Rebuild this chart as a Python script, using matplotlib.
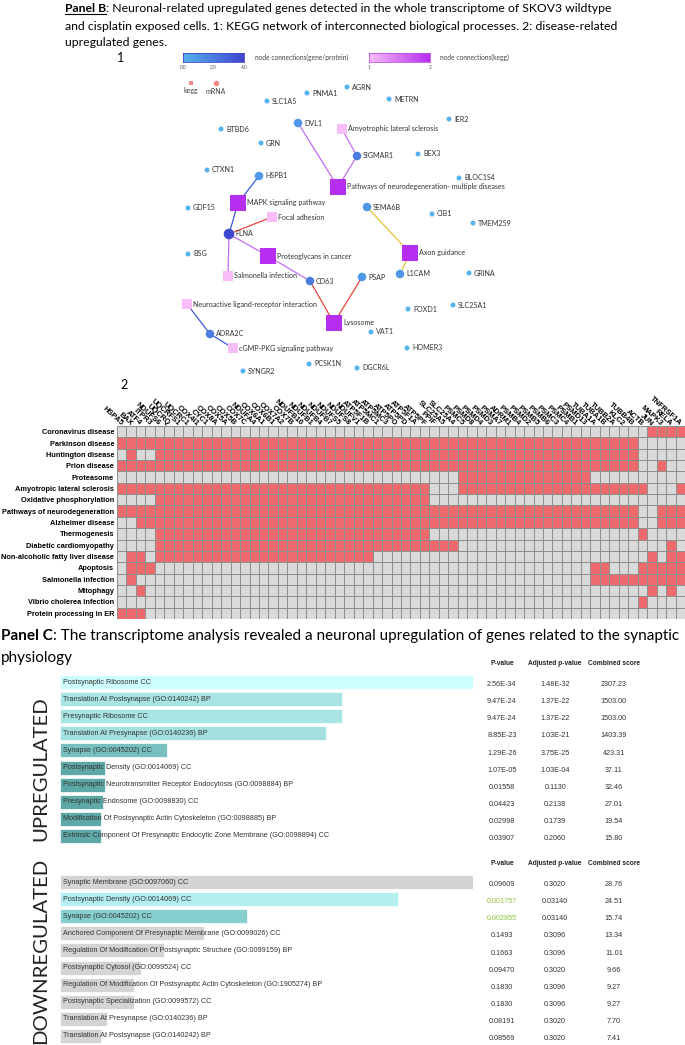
import numpy as np
import matplotlib
matplotlib.use("Agg")
import matplotlib.pyplot as plt
from matplotlib.colors import ListedColormap, LinearSegmentedColormap
from matplotlib.lines import Line2D

W, H = 685, 1045
plt.rcParams['font.family'] = ['Lato', 'DejaVu Sans']
NARROW = ['Liberation Sans Narrow', 'Liberation Sans', 'DejaVu Sans']

# ---------------- panel B.1 : KEGG network ----------------
gene_names = ["PNMA1", "AGRN", "SLC1A5", "METRN", "DVL1", "IER2", "BTBD6", "GRN", "SIGMAR1", "BEX3",
              "CTXN1", "HSPB1", "BLOC1S4", "GDF15", "SEMA6B", "CIB1", "TMEM259", "FLNA", "BSG",
              "CD63", "PSAP", "L1CAM", "GRINA", "FOXD1", "SLC25A1", "ADRA2C", "VAT1", "HOMER3",
              "PCSK1N", "DGCR6L", "SYNGR2"]
gene_x = [307, 347, 267, 389, 298, 449, 221, 261, 357, 418, 207, 259, 459, 188, 367, 432, 473,
          229, 188, 310, 362, 400, 469, 408, 453, 210, 371, 407, 309, 357, 243]
gene_y = [93, 87, 101, 99, 123, 119, 129, 143, 156, 154, 170, 176, 178, 208, 207, 214, 223,
          234, 254, 281, 277, 274, 273, 309, 305, 334, 332, 348, 364, 368, 371]
gene_deg = [0, 0, 0, 0, 1, 0, 0, 0, 2, 0, 0, 1, 0, 0, 1, 0, 0, 4, 0, 2, 1, 1, 0, 0, 0, 2, 0, 0, 0, 0, 0]

kegg_names = ["Amyotrophic lateral sclerosis", "Pathways of neurodegeneration- multiple diseases",
              "MAPK signaling pathway", "Focal adhesion", "Proteoglycans in cancer", "Axon guidance",
              "Salmonella infection", "Neuroactive ligand-receptor interaction", "Lysosome",
              "cGMP-PKG signaling pathway"]
kegg_x = [342, 338, 238, 272, 268, 410, 228, 187, 334, 233]
kegg_y = [129, 187, 203, 217, 256, 253, 276, 304, 323, 348]
kegg_deg = [1, 2, 2, 1, 2, 2, 1, 1, 2, 1]

edge_src = ["DVL1", "Amyotrophic lateral sclerosis", "SIGMAR1", "HSPB1", "FLNA", "FLNA", "FLNA",
            "FLNA", "Proteoglycans in cancer", "CD63", "PSAP", "SEMA6B", "Axon guidance",
            "Neuroactive ligand-receptor interaction", "ADRA2C"]
edge_dst = ["Pathways of neurodegeneration- multiple diseases", "SIGMAR1",
            "Pathways of neurodegeneration- multiple diseases", "MAPK signaling pathway",
            "MAPK signaling pathway", "Focal adhesion", "Proteoglycans in cancer",
            "Salmonella infection", "CD63", "Lysosome", "Lysosome", "Axon guidance", "L1CAM",
            "ADRA2C", "cGMP-PKG signaling pathway"]
edge_col = ["#c46cf2", "#c46cf2", "#c46cf2", "#3d5ad8", "#3d5ad8", "#e8433d", "#c46cf2",
            "#c46cf2", "#c46cf2", "#e8433d", "#e8433d", "#e6c13c", "#e6c13c", "#3d5ad8", "#3d5ad8"]

# ---------------- panel B.2 : disease heatmap ----------------
hm_genes = ["HSPA5", "BAX", "ATF4", "ITPR3", "NDUFS6", "UQCRQ", "UQCRFS1", "UQCRC1", "COX4I1", "CYC1",
            "COX8A", "COX5A", "COX5B", "COX7C", "NDUFA4", "COX6A1", "COX6B1", "COX7A2", "COX7B", "NDUFB10",
            "NDUFB1", "NDUFB4", "NDUFB7", "NDUFS5", "NDUFS8", "NDUFV1", "ATP5F1B", "ATP5MC1", "ATP5MC3", "ATP5PO",
            "ATP5PD", "ATP5F1A", "ATP5PF", "PPIF", "SLC25A5", "SLC25A4", "PSMC5", "PSMD8", "PSMD4", "PSMD3",
            "PSMA7", "ADRM1", "PSMB4", "PSMD2", "PSMB5", "PSMB6", "PSMC3", "PSMC4", "PSMB1", "PSMD13",
            "TUBA1A", "TUBA1B", "TUBB2A", "KLC2", "TUBB4B", "ACTB", "JUN", "MAPK3", "RELA", "TNFRSF1A"]
hm_pathways = ["Coronavirus disease", "Parkinson disease", "Huntington disease", "Prion disease",
               "Proteasome", "Amyotropic lateral sclerosis", "Oxidative phosphorylation",
               "Pathways of neurodegeneration", "Alzheimer disease", "Thermogenesis",
               "Diabetic cardiomyopathy", "Non-alcoholic fatty liver disease", "Apoptosis",
               "Salmonella infection", "Mitophagy", "Vibrio cholerea infection", "Protein processing in ER"]
hm_rows = [
    "0000000000 0000000000 0000000000 0000000000 0000000000 0000001111",
    "1111111111 1111111111 1111111111 1111111111 1111111111 1111100000",
    "0100111111 1111111111 1111111111 1111111111 1111111111 1111100000",
    "1111111111 1111111111 1111111111 1111111111 1111111111 1111100100",
    "0000000000 0000000000 0000000000 0000001111 1111111111 0000000000",
    "1111111111 1111111111 1111111111 1110001111 1111111111 1111110001",
    "0000111111 1111111111 1111111111 1110000000 0000000000 0000000000",
    "1111111111 1111111111 1111111111 1111111111 1111111111 1111100111",
    "0011111111 1111111111 1111111111 1111111111 1111111111 1111100111",
    "0000111111 1111111111 1111111111 1110000000 0000000000 0000010000",
    "0000111111 1111111111 1111111111 1111110000 0000000000 0000000010",
    "0110111111 1111111111 1111111000 0000000000 0000000000 0000001011",
    "0111000000 0000000000 0000000000 0000000000 0000000000 1100011111",
    "0100000000 0000000000 0000000000 0000000000 0000000000 1111111111",
    "0010000000 0000000000 0000000000 0000000000 0000000000 0000001010",
    "0000000000 0000000000 0000000000 0000000000 0000000000 0000010000",
    "1110000000 0000000000 0000000000 0000000000 0000000000 0000000000",
]

# ---------------- panel C : enrichment tables ----------------
up_terms = ["Postsynaptic Ribosome CC", "Translation At Postsynapse (GO:0140242) BP",
            "Presynaptic Ribosome CC", "Translation At Presynapse (GO:0140236) BP",
            "Synapse (GO:0045202) CC", "Postsynaptic Density (GO:0014069) CC",
            "Postsynaptic Neurotransmitter Receptor Endocytosis (GO:0098884) BP",
            "Presynaptic Endosome (GO:0098830) CC",
            "Modification Of Postsynaptic Actin Cytoskeleton (GO:0098885) BP",
            "Extrinsic Component Of Presynaptic Endocytic Zone Membrane (GO:0098894) CC"]
up_p = ["2.56E-34", "9.47E-24", "9.47E-24", "8.85E-23", "1.29E-26", "1.07E-05", "0.01558",
        "0.04423", "0.02998", "0.03907"]
up_adj = ["1.48E-32", "1.37E-22", "1.37E-22", "1.03E-21", "3.75E-25", "1.03E-04", "0.1130",
          "0.2138", "0.1739", "0.2060"]
up_score = ["2307.23", "1503.00", "1503.00", "1403.39", "423.31", "37.11", "32.46", "27.01",
            "19.54", "15.80"]
up_bar = [1.0, 0.683, 0.683, 0.644, 0.259, 0.109, 0.109, 0.104, 0.099, 0.099]
up_col = ["#cdfdfd", "#a8e4e4", "#a8e4e4", "#a4e0e0", "#78c0c0", "#5ea9a7", "#5ea9a7",
          "#5ea9a7", "#5ea9a7", "#5ea9a7"]
up_green = [False] * 10

down_terms = ["Synaptic Membrane (GO:0097060) CC", "Postsynaptic Density (GO:0014069) CC",
              "Synapse (GO:0045202) CC",
              "Anchored Component Of Presynaptic Membrane (GO:0099026) CC",
              "Regulation Of Modification Of Postsynaptic Structure (GO:0099159) BP",
              "Postsynaptic Cytosol (GO:0099524) CC",
              "Regulation Of Modification Of Postsynaptic Actin Cytoskeleton (GO:1905274) BP",
              "Postsynaptic Specialization (GO:0099572) CC",
              "Translation At Presynapse (GO:0140236) BP",
              "Translation At Postsynapse (GO:0140242) BP"]
down_p = ["0.09609", "0.001757", "0.002855", "0.1493", "0.1663", "0.09470", "0.1830", "0.1830",
          "0.08191", "0.08569"]
down_adj = ["0.3020", "0.03140", "0.03140", "0.3096", "0.3096", "0.3020", "0.3096", "0.3096",
            "0.3020", "0.3020"]
down_score = ["28.76", "24.51", "15.74", "13.34", "11.01", "9.66", "9.27", "9.27", "7.70", "7.41"]
down_bar = [1.0, 0.818, 0.453, 0.349, 0.252, 0.196, 0.179, 0.179, 0.114, 0.099]
down_col = ["#d4d4d4", "#b3eff1", "#86cfcf", "#d4d4d4", "#d4d4d4", "#d4d4d4", "#d4d4d4",
            "#d4d4d4", "#d4d4d4", "#d4d4d4"]
down_green = [False, True, True, False, False, False, False, False, False, False]

fig = plt.figure(figsize=(W / 100, H / 100), dpi=100)
fig.patch.set_facecolor("white")
R = fig.canvas.get_renderer()


def px_axes(x, y, w, h):
    return fig.add_axes([x / W, 1 - (y + h) / H, w / W, h / H])


def size_for(text, width, weight="normal", family=None):
    t = fig.text(0, 0, text, fontsize=10, fontweight=weight, family=family)
    w = t.get_window_extent(R).width
    t.remove()
    return 10 * width / w


def two_part(x, y, bold, rest, size, underline=False):
    t1 = fig.text(x / W, 1 - y / H, bold, fontsize=size, fontweight="bold", va="center")
    bb = t1.get_window_extent(R)
    fig.text(bb.x1 / W, 1 - y / H, rest, fontsize=size, va="center")
    if underline:
        fig.add_artist(Line2D([bb.x0 / W, bb.x1 / W], [(bb.y0 + 0.5) / H] * 2,
                              transform=fig.transFigure, color="k", lw=0.8))


# titles
tsize = size_for("and cisplatin exposed cells. 1: KEGG network of interconnected biological processes. 2: disease-related", 554)
two_part(65, 9, "Panel B", ": Neuronal-related upregulated genes detected in the whole transcriptome of SKOV3 wildtype", tsize, True)
fig.text(65 / W, 1 - 26 / H, "and cisplatin exposed cells. 1: KEGG network of interconnected biological processes. 2: disease-related", fontsize=tsize, va="center")
fig.text(65 / W, 1 - 43 / H, "upregulated genes.", fontsize=tsize, va="center")

csize = size_for("Panel C: The transcriptome analysis revealed a neuronal upregulation of genes related to the synaptic", 680)
two_part(1, 636, "Panel C", ": The transcriptome analysis revealed a neuronal upregulation of genes related to the synaptic", csize)
fig.text(1 / W, 1 - 658 / H, "physiology", fontsize=csize, va="center")

fig.text(117 / W, 1 - 58 / H, "1", fontsize=9, va="center")
fig.text(120 / W, 1 - 385 / H, "2", fontsize=9, va="center")

# ---- network ----
ax = px_axes(100, 50, 400, 330)
ax.set_xlim(100, 500)
ax.set_ylim(380, 50)
ax.axis("off")
pos = {}
for n, x, y in zip(gene_names, gene_x, gene_y):
    pos[n] = (x, y)
for n, x, y in zip(kegg_names, kegg_x, kegg_y):
    pos[n] = (x, y)
for a, b, c in zip(edge_src, edge_dst, edge_col):
    ax.plot([pos[a][0], pos[b][0]], [pos[a][1], pos[b][1]], color=c, lw=0.9, zorder=1)

gene_cmap = LinearSegmentedColormap.from_list("g", ["#56b2f0", "#3f46cf"])
gdeg = np.array(gene_deg)
gsize = np.where(gdeg == 0, 13, np.where(gdeg >= 4, 58, 38))
ax.scatter(gene_x, gene_y, s=gsize, c=gdeg, cmap=gene_cmap, vmin=0, vmax=4, zorder=3, linewidths=0)
for n, x, y, d in zip(gene_names, gene_x, gene_y, gene_deg):
    ax.text(x + (5 if d == 0 else 6), y, n, fontsize=5.1, va="center", color="#333333", zorder=4)

kegg_cmap = LinearSegmentedColormap.from_list("k", ["#f6bdf8", "#b72ef0"])
kdeg = np.array(kegg_deg)
ksize = np.where(kdeg >= 2, 135, 45)
ax.scatter(kegg_x, kegg_y, s=ksize, c=kdeg, cmap=kegg_cmap, vmin=1, vmax=2, marker="s", zorder=3,
           linewidths=0)
for n, x, y, d in zip(kegg_names, kegg_x, kegg_y, kegg_deg):
    ax.text(x + (9 if d >= 2 else 6), y, n, fontsize=5.1, va="center", color="#333333", zorder=4)

# legend of the network
ax.scatter([191], [83], s=12, marker="s", color="#f28b8b", linewidths=0)
ax.scatter([216], [83], s=16, marker="o", color="#f28b8b", linewidths=0)
ax.text(191, 91, "kegg", fontsize=5, ha="center", va="center", color="#444444")
ax.text(216, 91, "mRNA", fontsize=5, ha="center", va="center", color="#444444")

grad = np.linspace(0, 1, 100)[None, :]
cb1 = px_axes(183, 53, 61, 9)
cb1.imshow(grad, cmap=gene_cmap, aspect="auto")
cb1.set_xticks([])
cb1.set_yticks([])
for s in cb1.spines.values():
    s.set_color("#3f46cf")
    s.set_linewidth(0.6)
cb2 = px_axes(369, 53, 61, 9)
cb2.imshow(grad, cmap=kegg_cmap, aspect="auto")
cb2.set_xticks([])
cb2.set_yticks([])
for s in cb2.spines.values():
    s.set_color("#c050f0")
    s.set_linewidth(0.6)
for lab, xx in zip(["0.0", "2.0", "4.0"], [183, 213, 244]):
    fig.text(xx / W, 1 - 68 / H, lab, fontsize=3.5, ha="center", va="center", color="#555555")
for lab, xx in zip(["1", "2"], [369, 430]):
    fig.text(xx / W, 1 - 68 / H, lab, fontsize=3.5, ha="center", va="center", color="#555555")
fig.text(255 / W, 1 - 57 / H, "node connections(gene/protein)", fontsize=4.8, va="center", color="#444444")
fig.text(440 / W, 1 - 57 / H, "node connections(kegg)", fontsize=4.8, va="center", color="#444444")

# ---- heatmap ----
mat = np.array([[int(ch) for ch in r.replace(" ", "")] for r in hm_rows])
axh = px_axes(117, 426, 568, 193)
axh.pcolormesh(mat, cmap=ListedColormap(["#d9d9d9", "#ee6a6d"]), vmin=0, vmax=1,
               edgecolors="#8e8e8e", linewidth=0.5)
axh.set_xlim(0, mat.shape[1])
axh.set_ylim(mat.shape[0], 0)
axh.xaxis.tick_top()
axh.set_xticks(np.arange(len(hm_genes)) + 0.5)
axh.set_xticklabels(hm_genes, rotation=-42, ha="right", va="center", rotation_mode="anchor",
                    fontsize=5.5, fontweight="bold", family=NARROW)
rsize = size_for("Non-alcoholic fatty liver disease", 112, weight="bold", family=NARROW)
axh.set_yticks(np.arange(len(hm_pathways)) + 0.5)
axh.set_yticklabels(hm_pathways, fontsize=rsize, fontweight="bold", family=NARROW)
axh.tick_params(length=0, pad=2)
axh.tick_params(axis="x", pad=1)
for s in axh.spines.values():
    s.set_visible(False)

# ---- panel C tables ----
TX = [1.070, 1.199, 1.341]


def draw_table(y_top, terms, bars, cols, pv, adj, sc, green):
    n = len(terms)
    axt = px_axes(60, y_top, 413, n * 17.1)
    rows = np.arange(n)
    axt.barh(rows, bars, height=0.82, color=cols, edgecolor="white", linewidth=0.5)
    axt.set_xlim(0, 1)
    axt.set_ylim(n - 0.5, -0.5)
    axt.axis("off")
    for lab, xx in zip(["P-value", "Adjusted p-value", "Combined score"], TX):
        axt.text(xx, -1.1, lab, fontsize=4.8, fontweight="bold", ha="center", va="center",
                 family=NARROW, clip_on=False, color="#222222")
    for i in rows:
        axt.text(0.008, i, terms[i], fontsize=5.2, va="center", family=NARROW, color="#333333")
        axt.text(TX[0], i + 0.15, pv[i], fontsize=5.2, ha="center", va="center", family=NARROW,
                 color="#8cc63f" if green[i] else "#333333", clip_on=False)
        axt.text(TX[1], i + 0.15, adj[i], fontsize=5.2, ha="center", va="center", family=NARROW,
                 color="#333333", clip_on=False)
        axt.text(TX[2], i + 0.15, sc[i], fontsize=5.2, ha="center", va="center", family=NARROW,
                 color="#333333", clip_on=False)


draw_table(673.5, up_terms, up_bar, up_col, up_p, up_adj, up_score, up_green)
draw_table(873.5, down_terms, down_bar, down_col, down_p, down_adj, down_score, down_green)

vsize = size_for("DOWNREGULATED", 185)
fig.text(41 / W, 1 - 769 / H, "UPREGULATED", fontsize=vsize, rotation=90, ha="center", va="center",
         color="#222222")
fig.text(41 / W, 1 - 951 / H, "DOWNREGULATED", fontsize=vsize, rotation=90, ha="center", va="center",
         color="#222222")

fig.savefig("out.png", dpi=100)
